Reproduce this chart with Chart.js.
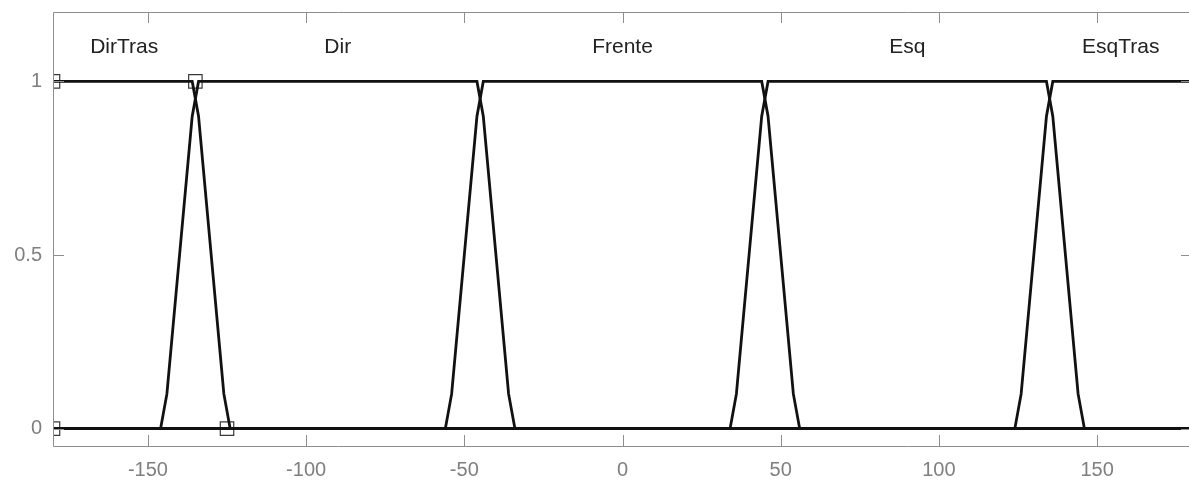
<!DOCTYPE html>
<html>
<head>
<meta charset="utf-8">
<script src="https://cdn.jsdelivr.net/npm/chart.js@4.4.1/dist/chart.umd.min.js"></script>
<style>
  html, body { margin: 0; padding: 0; background: #ffffff; overflow: hidden; }
  #wrap { position: relative; width: 1220px; height: 481px; }
</style>
</head>
<body>
<div id="wrap"><canvas id="c" width="1220" height="481"></canvas></div>
<script>
// ---- Data (membership function polylines) ----
const mfNames   = ['DirTras', 'Dir', 'Frente', 'Esq', 'EsqTras'];
const mfLabelX  = [-157.5, -90, 0, 90, 157.5];
const mfLabelY  = 1.1;

const dirTrasX = [-180, -136, -134, -126, -124, 180];
const dirTrasY = [1, 1, 0.9, 0.1, 0, 0];

const dirX = [-180, -146, -144, -136, -134, -46, -44, -36, -34, 180];
const dirY = [0, 0, 0.1, 0.9, 1, 1, 0.9, 0.1, 0, 0];

const frenteX = [-180, -56, -54, -46, -44, 44, 46, 54, 56, 180];
const frenteY = [0, 0, 0.1, 0.9, 1, 1, 0.9, 0.1, 0, 0];

const esqX = [-180, 34, 36, 44, 46, 134, 136, 144, 146, 180];
const esqY = [0, 0, 0.1, 0.9, 1, 1, 0.9, 0.1, 0, 0];

const esqTrasX = [-180, 124, 126, 134, 136, 180];
const esqTrasY = [0, 0, 0.1, 0.9, 1, 1];

// selected MF (DirTras) parameter markers
const markerX = [-180, -180, -135, -125];
const markerY = [1, 0, 1, 0];

const xTickValues = [-150, -100, -50, 0, 50, 100, 150];
const yTickValues = [0, 0.5, 1];

// ---- Build chart ----
const toPts = (xs, ys) => xs.map((x, i) => ({ x: x, y: ys[i] }));
const seriesX = [dirTrasX, dirX, frenteX, esqX, esqTrasX];
const seriesY = [dirTrasY, dirY, frenteY, esqY, esqTrasY];

const datasets = seriesX.map((xs, i) => ({
  label: mfNames[i],
  data: toPts(xs, seriesY[i]),
  borderColor: '#111111',
  borderWidth: 2.8,
  pointRadius: 0,
  fill: false,
  tension: 0,
  clip: 2
}));
datasets.push({
  label: 'markers',
  data: toPts(markerX, markerY),
  showLine: false,
  pointStyle: 'rect',
  pointRadius: 9.5,
  pointBorderWidth: 1.2,
  pointBorderColor: '#3a3a3a',
  pointBackgroundColor: 'rgba(0,0,0,0)',
  clip: 0
});

const AXIS_COLOR = '#8e8e8e';
const TICK_LEN = 11;
const FONT = '"Liberation Sans", Arial, sans-serif';

const framePlugin = {
  id: 'frame',
  afterDatasetsDraw(chart) {
    const { ctx, chartArea: a, scales } = chart;
    ctx.save();
    ctx.strokeStyle = AXIS_COLOR;
    ctx.lineWidth = 1;
    ctx.beginPath();
    ctx.rect(Math.round(a.left) + 0.5, Math.round(a.top) + 0.5,
             Math.round(a.right - a.left), Math.round(a.bottom - a.top));
    xTickValues.forEach(v => {
      const px = Math.round(scales.x.getPixelForValue(v)) + 0.5;
      ctx.moveTo(px, a.bottom); ctx.lineTo(px, a.bottom - TICK_LEN);
      ctx.moveTo(px, a.top); ctx.lineTo(px, a.top + TICK_LEN);
    });
    yTickValues.forEach(v => {
      const py = Math.round(scales.y.getPixelForValue(v)) + 0.5;
      ctx.moveTo(a.left, py); ctx.lineTo(a.left + TICK_LEN, py);
      ctx.moveTo(a.right, py); ctx.lineTo(a.right - TICK_LEN, py);
    });
    ctx.stroke();

    ctx.fillStyle = '#222222';
    ctx.font = '21px ' + FONT;
    ctx.textAlign = 'center';
    ctx.textBaseline = 'middle';
    mfNames.forEach((n, i) => {
      ctx.fillText(n, scales.x.getPixelForValue(mfLabelX[i]),
                      scales.y.getPixelForValue(mfLabelY));
    });
    ctx.restore();
  }
};

new Chart(document.getElementById('c'), {
  type: 'line',
  data: { datasets: datasets },
  options: {
    responsive: false,
    animation: false,
    devicePixelRatio: 1,
    layout: { padding: { top: 12, right: 28, left: 0, bottom: 0 } },
    plugins: { legend: { display: false }, tooltip: { enabled: false } },
    scales: {
      x: {
        type: 'linear',
        min: -180, max: 180,
        border: { display: false },
        grid: { display: false, drawTicks: false },
        afterBuildTicks: s => { s.ticks = xTickValues.map(v => ({ value: v })); },
        afterFit: s => { s.height = 481 - 446; s.paddingLeft = 0; s.paddingRight = 0; },
        ticks: {
          color: '#7f7f7f',
          font: { family: FONT, size: 20 },
          padding: 12,
          maxRotation: 0,
          callback: v => String(v)
        }
      },
      y: {
        type: 'linear',
        min: -0.05, max: 1.2,
        border: { display: false },
        grid: { display: false, drawTicks: false },
        afterBuildTicks: s => { s.ticks = yTickValues.map(v => ({ value: v })); },
        afterFit: s => { s.width = 53; s.paddingTop = 0; s.paddingBottom = 0; },
        ticks: {
          color: '#7f7f7f',
          font: { family: FONT, size: 20 },
          padding: 11,
          callback: v => String(v)
        }
      }
    }
  },
  plugins: [framePlugin]
});
</script>
</body>
</html>
